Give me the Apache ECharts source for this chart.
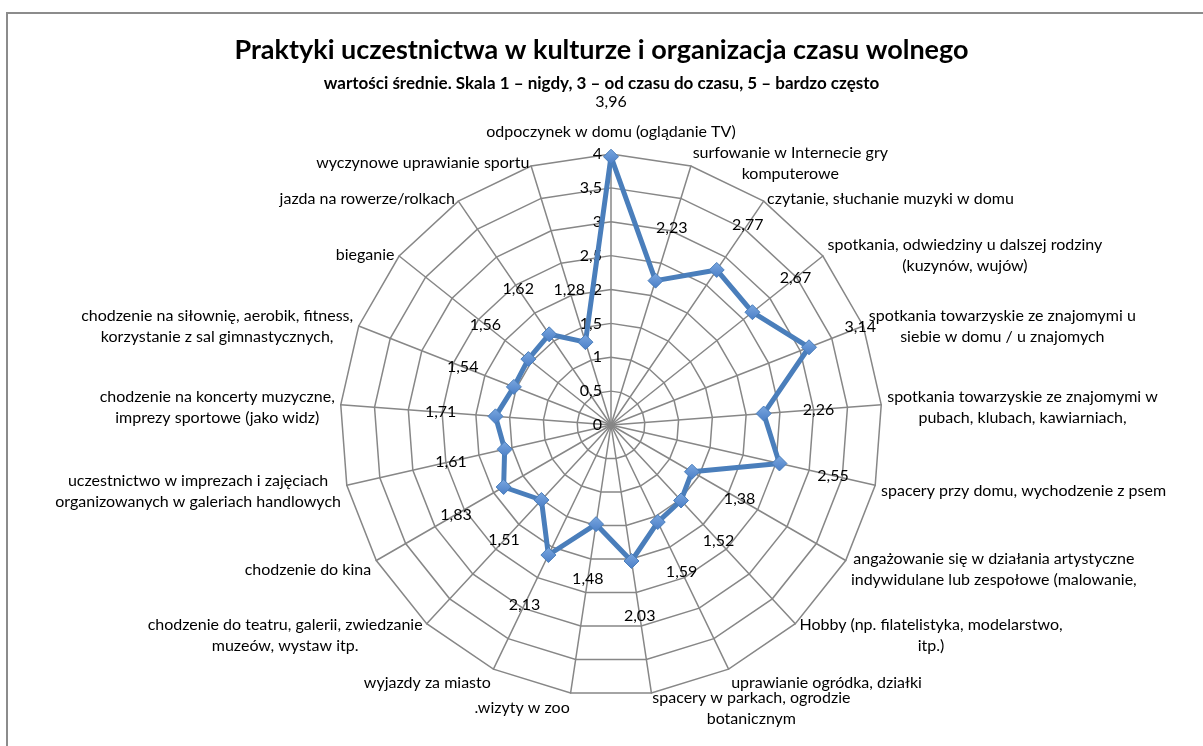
<!DOCTYPE html>
<html>
<head>
<meta charset="utf-8">
<script src="https://cdn.jsdelivr.net/npm/echarts@6/dist/echarts.min.js"></script>
<style>
html,body{margin:0;padding:0;background:#fff;}
#chart{width:1203px;height:746px;}
</style>
</head>
<body>
<div id="chart"></div>
<script>
var titleText = 'Praktyki uczestnictwa w kulturze i organizacja czasu wolnego';
var subtitleText = 'wartości średnie. Skala 1 – nigdy, 3 – od czasu do czasu, 5 – bardzo często';

var categories = [
  'odpoczynek w domu (oglądanie TV)',
  'surfowanie w Internecie gry\nkomputerowe',
  'czytanie, słuchanie muzyki w domu',
  'spotkania, odwiedziny u dalszej rodziny\n(kuzynów, wujów)',
  'spotkania towarzyskie ze znajomymi u\nsiebie w domu / u znajomych',
  'spotkania towarzyskie ze znajomymi w\npubach, klubach, kawiarniach,',
  'spacery przy domu, wychodzenie z psem',
  'angażowanie się w działania artystyczne\nindywidulane lub zespołowe (malowanie,',
  'Hobby (np. filatelistyka, modelarstwo,\nitp.)',
  'uprawianie ogródka, działki',
  'spacery w parkach, ogrodzie\nbotanicznym',
  '.wizyty w zoo',
  'wyjazdy za miasto',
  'chodzenie do teatru, galerii, zwiedzanie\nmuzeów, wystaw itp.',
  'chodzenie do kina',
  'uczestnictwo w imprezach i zajęciach\norganizowanych w galeriach handlowych',
  'chodzenie na koncerty muzyczne,\nimprezy sportowe (jako widz)',
  'chodzenie na siłownię, aerobik, fitness,\nkorzystanie z sal gimnastycznych,',
  'bieganie',
  'jazda na rowerze/rolkach',
  'wyczynowe uprawianie sportu'
];

var values = [3.96, 2.23, 2.77, 2.67, 3.14, 2.26, 2.55, 1.38, 1.52, 1.59, 2.03,
              1.48, 2.13, 1.51, 1.83, 1.61, 1.71, 1.54, 1.56, 1.62, 1.28];

var axisMin = 0, axisMax = 4, axisStep = 0.5;

function fmt(v) { return String(v).replace('.', ','); }

var FONT = 'Lato';
var FS = 16;
var CX = 611, CY = 425, R = 271;
var LABEL_GAP = 55;
var n = categories.length;

// ECharts radar runs counter-clockwise; the reference runs clockwise from the top.
var order = [0];
for (var k = n - 1; k >= 1; k--) order.push(k);

var indicators = order.map(function (i, k) {
  var ind = { name: categories[i], min: axisMin, max: axisMax };
  if (k === 0) ind.axisLabel = { show: true };
  return ind;
});
var radarValues = order.map(function (i) { return values[i]; });

var labelData = values.map(function (v, i) {
  var a = i * 2 * Math.PI / n;
  return {
    value: [v, i],
    label: { offset: [LABEL_GAP * Math.sin(a), -LABEL_GAP * Math.cos(a)] }
  };
});

// category-name formatter: centred lines; small vertical nudge like Excel's placement
function nameFormatter(name) {
  var i = categories.indexOf(name);
  var lines = name.split('\n').map(function (l) { return '{c|' + l + '}'; }).join('\n');
  if (i === 0) return lines + '\n{s|}';
  var a = i * 2 * Math.PI / n;
  var shift = 3 + 6 * Math.max(0, -Math.cos(a));
  var h = Math.round(shift * 2);
  return '{s' + h + '|}\n' + lines;
}
var richStyles = { c: { align: 'center', fontFamily: FONT, fontSize: FS, color: '#000', lineHeight: 21 },
                   s: { lineHeight: 6, fontSize: 1 } };
for (var h = 1; h <= 24; h++) richStyles['s' + h] = { lineHeight: h, fontSize: 1 };

var chart = echarts.init(document.getElementById('chart'), null, { renderer: 'canvas' });
chart.setOption({
  backgroundColor: '#fff',
  animation: false,
  textStyle: { fontFamily: FONT },
  title: [
    { text: titleText, left: 'center', top: 32,
      textStyle: { fontFamily: FONT, fontSize: 27, fontWeight: 'bold', color: '#000' } },
    { text: subtitleText, left: 'center', top: 70,
      textStyle: { fontFamily: FONT, fontSize: 17, fontWeight: 'bold', color: '#000' } }
  ],
  graphic: [{
    type: 'rect', silent: true,
    shape: { x: 7, y: 13, width: 1300, height: 900 },
    style: { fill: 'none', stroke: '#8c8c8c', lineWidth: 2 }
  }],
  radar: {
    center: [CX, CY],
    radius: R,
    startAngle: 90,
    shape: 'polygon',
    splitNumber: (axisMax - axisMin) / axisStep,
    indicator: indicators,
    nameGap: 6,
    axisName: {
      color: '#000', fontFamily: FONT, fontSize: FS,
      formatter: nameFormatter,
      rich: richStyles
    },
    axisLine: { show: true, lineStyle: { color: '#878787', width: 1.5 } },
    splitLine: { show: true, lineStyle: { color: '#878787', width: 1.5 } },
    splitArea: { show: false },
    axisTick: { show: false },
    axisLabel: {
      show: false, color: '#000', fontFamily: FONT, fontSize: FS, margin: 9,
      formatter: function (v) { return fmt(v); }
    }
  },
  polar: { center: [CX, CY], radius: R },
  angleAxis: { type: 'value', min: 0, max: n, startAngle: 90, clockwise: true, show: false },
  radiusAxis: { type: 'value', min: axisMin, max: axisMax, show: false },
  series: [
    {
      type: 'radar',
      symbol: 'diamond',
      symbolSize: 15,
      lineStyle: { color: '#4A7EBB', width: 5 },
      itemStyle: {
        color: new echarts.graphic.LinearGradient(0, 0, 0, 1, [
          { offset: 0, color: '#7aa7e0' }, { offset: 1, color: '#4a7ec6' }
        ]),
        borderColor: '#4A7EBB', borderWidth: 1
      },
      data: [{ value: radarValues, name: 'wartości średnie' }]
    },
    {
      type: 'scatter',
      coordinateSystem: 'polar',
      symbolSize: 0,
      silent: true,
      itemStyle: { opacity: 1 },
      label: {
        show: true, position: 'inside', color: '#000', fontFamily: FONT, fontSize: FS,
        textBorderWidth: 0,
        formatter: function (p) { return fmt(p.value[0]); }
      },
      data: labelData
    }
  ]
});
</script>
</body>
</html>
